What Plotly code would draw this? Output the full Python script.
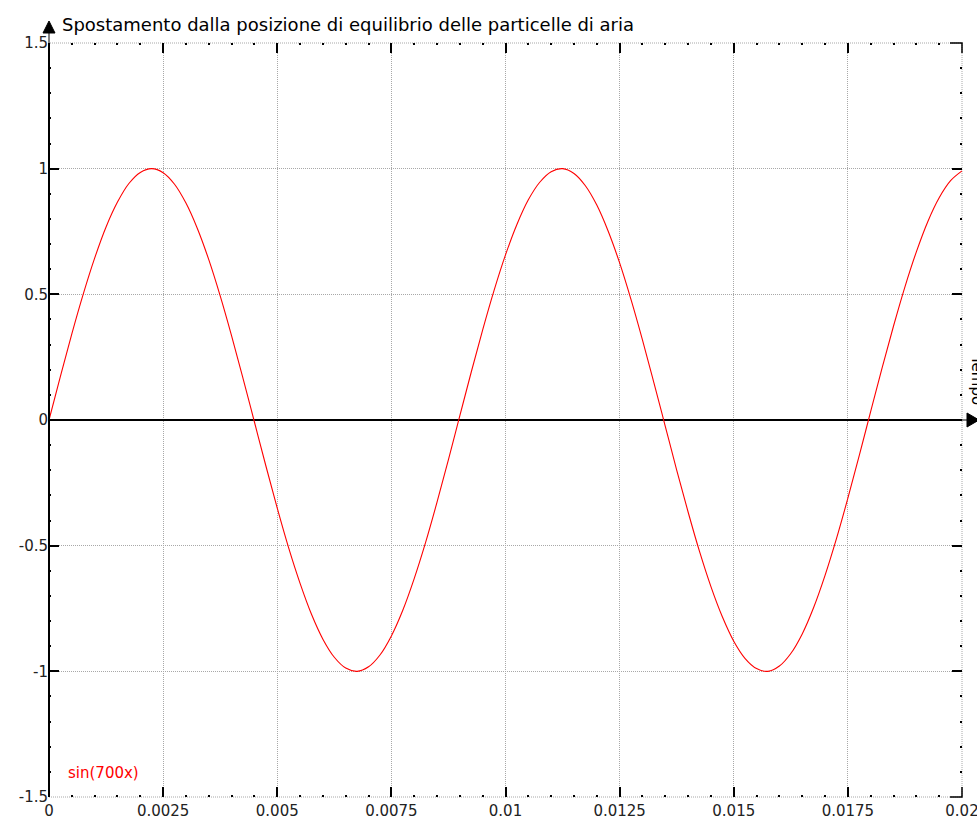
import plotly.graph_objects as go

# ---- data ----
x_vals = [0.00000, 0.00025, 0.00050, 0.00075, 0.00100, 0.00125, 0.00150, 0.00175,
          0.00200, 0.00225, 0.00250, 0.00275, 0.00300, 0.00325, 0.00350, 0.00375,
          0.00400, 0.00425, 0.00450, 0.00475, 0.00500, 0.00525, 0.00550, 0.00575,
          0.00600, 0.00625, 0.00650, 0.00675, 0.00700, 0.00725, 0.00750, 0.00775,
          0.00800, 0.00825, 0.00850, 0.00875, 0.00900, 0.00925, 0.00950, 0.00975,
          0.01000, 0.01025, 0.01050, 0.01075, 0.01100, 0.01125, 0.01150, 0.01175,
          0.01200, 0.01225, 0.01250, 0.01275, 0.01300, 0.01325, 0.01350, 0.01375,
          0.01400, 0.01425, 0.01450, 0.01475, 0.01500, 0.01525, 0.01550, 0.01575,
          0.01600, 0.01625, 0.01650, 0.01675, 0.01700, 0.01725, 0.01750, 0.01775,
          0.01800, 0.01825, 0.01850, 0.01875, 0.01900, 0.01925, 0.01950, 0.01975,
          0.02000]
y_vals = [0.000, 0.174, 0.343, 0.501, 0.644, 0.768, 0.867, 0.941,
          0.985, 1.000, 0.984, 0.938, 0.863, 0.762, 0.638, 0.494,
          0.335, 0.166, -0.008, -0.182, -0.351, -0.509, -0.650, -0.773,
          -0.872, -0.944, -0.987, -1.000, -0.982, -0.935, -0.859, -0.757,
          -0.631, -0.487, -0.327, -0.158, 0.017, 0.191, 0.359, 0.516,
          0.657, 0.778, 0.876, 0.946, 0.988, 1.000, 0.981, 0.932,
          0.855, 0.751, 0.625, 0.479, 0.319, 0.149, -0.025, -0.199,
          -0.366, -0.523, -0.663, -0.783, -0.880, -0.949, -0.989, -1.000,
          -0.979, -0.929, -0.851, -0.746, -0.618, -0.472, -0.311, -0.141,
          0.034, 0.207, 0.374, 0.530, 0.669, 0.789, 0.884, 0.952,
          0.991]
series_name = "sin(700x)"

x_tickvals = [0, 0.0025, 0.005, 0.0075, 0.01, 0.0125, 0.015, 0.0175, 0.02]
x_ticktext = ["0", "0.0025", "0.005", "0.0075", "0.01", "0.0125", "0.015", "0.0175", "0.02"]
y_tickvals = [-1.5, -1, -0.5, 0, 0.5, 1, 1.5]
y_ticktext = ["-1.5", "-1", "-0.5", "0", "0.5", "1", "1.5"]

title_text = "Spostamento dalla posizione di equilibrio delle particelle di aria"
x_title = "Tempo"

FONT = "DejaVu Sans"
GRID = "#a8a8a8"
PLOT_W, PLOT_H = 913, 754

fig = go.Figure()
fig.add_trace(go.Scatter(
    x=x_vals, y=y_vals, mode="lines", name=series_name,
    line=dict(color="#ff0000", width=1.1, shape="spline", smoothing=1.0),
    hoverinfo="skip", showlegend=False,
))

axis_common = dict(
    showgrid=True, gridcolor=GRID, griddash="1px,1px", gridwidth=1,
    showline=False, automargin=False, ticklabeloverflow="allow",
    ticks="inside", ticklen=10, tickwidth=1.5, tickcolor="black", mirror="ticks",
    tickfont=dict(family=FONT, size=15, color="#222222"),
)

fig.update_layout(
    width=977, height=822,
    margin=dict(l=49, r=15, t=43, b=25, pad=0),
    paper_bgcolor="white", plot_bgcolor="white",
    font=dict(family=FONT, size=15, color="#222222"),
    xaxis=dict(
        range=[0, 0.02], tickmode="array", tickvals=x_tickvals, ticktext=x_ticktext,
        zeroline=False, ticklabelstandoff=3,
        minor=dict(ticks="inside", ticklen=2, tickwidth=2, tickcolor="black",
                   dtick=0.0005, showgrid=False),
        **axis_common,
    ),
    yaxis=dict(
        range=[-1.5, 1.5], tickmode="array", tickvals=y_tickvals, ticktext=y_ticktext,
        zeroline=True, zerolinecolor="black", zerolinewidth=2,
        minor=dict(ticks="inside", ticklen=2, tickwidth=2, tickcolor="black",
                   dtick=0.1, showgrid=False),
        **axis_common,
    ),
)

# dotted frame on the plot edges (grid lines at range ends)
fig.add_shape(type="rect", xref="paper", yref="paper", x0=0, x1=1, y0=0, y1=1,
              line=dict(color=GRID, width=1, dash="1px,1px"), layer="below")
# corner major ticks on the right edge
for yy in (0, 1):
    fig.add_shape(type="path", xref="paper", yref="paper", xsizemode="pixel",
                  ysizemode="pixel", xanchor=1, yanchor=yy,
                  path="M -12,0 L 0,0" + (" L 0,-10" if yy == 1 else " L 0,10"),
                  line=dict(color="black", width=1.5), layer="above")
# left solid axis line (x = 0) with up arrow
fig.add_shape(type="line", xref="paper", yref="paper", x0=0, x1=0, y0=0, y1=1,
              line=dict(color="black", width=2), layer="above")
fig.add_shape(type="path", xref="paper", yref="paper", xsizemode="pixel", ysizemode="pixel",
              xanchor=0, yanchor=1, path="M 0,0 L 0,11 M -6,10 L 6,10 L 0,22 Z",
              fillcolor="black", line=dict(color="black", width=1), layer="above")
# right arrow at end of x axis (y = 0 is the vertical middle)
fig.add_shape(type="path", xref="paper", yref="paper", xsizemode="pixel", ysizemode="pixel",
              xanchor=1, yanchor=0.5, path="M 0,0 L 6,0 M 5,-7 L 5,7 L 17,0 Z",
              fillcolor="black", line=dict(color="black", width=1), layer="above")

fig.add_annotation(text=title_text, xref="paper", yref="paper",
                   x=(60 - 49) / PLOT_W, y=1 + (43 - 24) / PLOT_H,
                   xanchor="left", yanchor="middle", showarrow=False,
                   font=dict(family=FONT, size=18, color="black"))
fig.add_annotation(text=x_title, xref="paper", yref="paper",
                   x=1 + (977 - 962) / PLOT_W, y=(797 - 380) / PLOT_H,
                   xanchor="center", yanchor="middle", showarrow=False, textangle=90,
                   font=dict(family=FONT, size=15, color="black"))
fig.add_annotation(text=series_name, xref="paper", yref="paper",
                   x=(66 - 49) / PLOT_W, y=(797 - 773) / PLOT_H,
                   xanchor="left", yanchor="middle", showarrow=False,
                   font=dict(family=FONT, size=15, color="#ff0000"))

# place the figure flush with the window's top-left corner (no default page margin)
fig.write_html("out.html", config={"displayModeBar": False},
               post_script="document.body.style.margin = '0px';")
